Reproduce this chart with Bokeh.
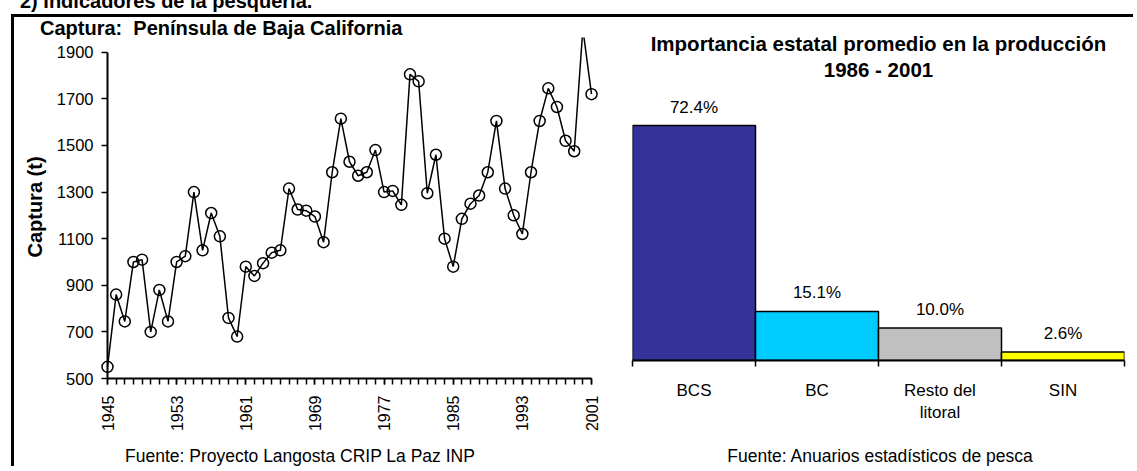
import math
from bokeh.plotting import figure
from bokeh.models import (FixedTicker, Label, LabelSet, Range1d, ColumnDataSource, Div)
from bokeh.core.properties import value
from bokeh.embed import file_html
from bokeh.resources import INLINE

FONT = "Liberation Sans"

# ---- data: left chart ----
years = list(range(1945, 2002))
captura = [550, 860, 745, 1000, 1010, 700, 880, 745, 1000, 1025,
           1300, 1050, 1210, 1110, 760, 680, 980, 940, 995, 1040,
           1050, 1315, 1225, 1220, 1195, 1085, 1385, 1615, 1430, 1370,
           1385, 1480, 1300, 1305, 1245, 1805, 1775, 1295, 1460, 1100,
           980, 1185, 1250, 1285, 1385, 1605, 1315, 1200, 1120, 1385,
           1605, 1745, 1665, 1520, 1475, 2000, 1720]
y_ticks = [500, 700, 900, 1100, 1300, 1500, 1700, 1900]
x_label_years = list(range(1945, 2002, 8))

# ---- data: right chart ----
estados = ["BCS", "BC", "Resto del\nlitoral", "SIN"]
porcentaje = [72.4, 15.1, 10.0, 2.6]
colores = ["#333399", "#00CCFF", "#C0C0C0", "#FFFF00"]


def place(left, top):
    return {"position": "absolute", "left": f"{left}px", "top": f"{top}px"}


Y_END = 1963.1          # frame top of the line chart (the 2000 peak runs off the top)
PX_PER_YEAR = 484 / 56  # frame width / years, used for the overlay's padded range

# ================= left chart: axes =================
p1 = figure(width=609, height=452, x_range=Range1d(years[0], years[-1]), y_range=Range1d(500, Y_END),
            output_backend="svg", toolbar_location=None, title=None,
            min_border_left=96, min_border_right=29, min_border_top=26, min_border_bottom=85,
            styles=place(11, 11))
p1.grid.visible = False
p1.outline_line_color = None
p1.border_fill_color = None

ya = p1.yaxis[0]
ya.ticker = FixedTicker(ticks=y_ticks)
ya.bounds = (y_ticks[0], y_ticks[-1])
ya.minor_tick_line_color = None
ya.major_tick_in = 0
ya.major_tick_out = 6
ya.major_tick_line_width = 1.5
ya.axis_line_width = 2
ya.major_label_text_font = FONT
ya.major_label_text_font_size = "16.5px"
ya.major_label_text_color = "black"
ya.major_label_standoff = 8

xa = p1.xaxis[0]
xa.ticker = FixedTicker(ticks=x_label_years, minor_ticks=years)
xa.major_tick_in = 0
xa.major_tick_out = 6
xa.minor_tick_in = 0
xa.minor_tick_out = 6
xa.minor_tick_line_color = "black"
xa.minor_tick_line_width = 1.5
xa.major_tick_line_width = 1.5
xa.axis_line_width = 2
xa.major_label_orientation = math.pi / 2
xa.major_label_standoff = 11
xa.major_label_text_font = FONT
xa.major_label_text_font_size = "16px"
xa.major_label_text_color = "black"

# ================= left chart: data overlay (wider frame so end markers are whole) =========
pad = 12 / PX_PER_YEAR
p1b = figure(width=508, height=452, x_range=Range1d(years[0] - pad, years[-1] + pad),
             y_range=Range1d(500, Y_END), output_backend="svg", toolbar_location=None,
             title=None, x_axis_location=None, y_axis_location=None,
             min_border_left=0, min_border_right=0, min_border_top=26, min_border_bottom=85,
             styles=place(95, 11))
p1b.grid.visible = False
p1b.outline_line_color = None
p1b.border_fill_color = None
p1b.background_fill_color = None
p1b.line(years, captura, line_color="black", line_width=1.5)
p1b.scatter(years, captura, size=11, fill_color=None, line_color="black", line_width=1.5)

# ================= right chart =================
idx = list(range(len(estados)))
src = ColumnDataSource(dict(x=idx, top=porcentaje, color=colores,
                            label=[f"{v:.1f}%" for v in porcentaje]))

p2 = figure(width=509, height=452, x_range=Range1d(-0.5, len(estados) - 0.5),
            y_range=Range1d(0, 106.3), title=None,
            output_backend="svg", toolbar_location=None, y_axis_location=None,
            min_border_left=12, min_border_right=5, min_border_top=4, min_border_bottom=103,
            styles=place(620, 11))
p2.grid.visible = False
p2.outline_line_color = None
p2.border_fill_color = None
p2.vbar(x="x", top="top", bottom=0, width=1, fill_color="color", line_color="black",
        line_width=1.5, source=src)
p2.add_layout(LabelSet(x="x", y="top", text="label", source=src, y_offset=13,
                       text_align="center", text_baseline="alphabetic",
                       text_font=value(FONT), text_font_size=value("17px"), text_color="black"))

xb = p2.xaxis[0]
xb.ticker = FixedTicker(ticks=idx, minor_ticks=[i - 0.5 for i in range(len(estados) + 1)])
xb.major_label_overrides = {i: s for i, s in zip(idx, estados)}
xb.major_tick_in = 0
xb.major_tick_out = 0
xb.minor_tick_in = 0
xb.minor_tick_out = 6
xb.minor_tick_line_color = "black"
xb.minor_tick_line_width = 1.5
xb.axis_line_width = 2
xb.major_label_standoff = 14
xb.major_label_text_font = FONT
xb.major_label_text_font_size = "17px"
xb.major_label_text_color = "black"

p2.add_layout(Label(x=246, y=317, x_units="screen", y_units="screen",
                    text="Importancia estatal promedio en la producción",
                    text_font=FONT, text_font_size="20.5px", text_font_style="bold",
                    text_align="center", text_baseline="alphabetic", text_color="black"))
p2.add_layout(Label(x=246, y=291, x_units="screen", y_units="screen",
                    text="1986 - 2001",
                    text_font=FONT, text_font_size="20.5px", text_font_style="bold",
                    text_align="center", text_baseline="alphabetic", text_color="black"))

# ================= texts placed on the page =================
bold20 = {"font-family": FONT, "font-size": "20px", "font-weight": "bold",
          "line-height": "24px", "white-space": "pre", "color": "black"}
title1 = Div(text="Captura:  Península de Baja California", width=420, height=24,
             styles={**place(35, 11), **bold20})
ylabel = Div(text="Captura (t)", width=140, height=24,
             styles={**place(-40, 190), **bold20, "text-align": "center",
                     "transform": "rotate(-90deg)", "transform-origin": "center"})
foot_style = {"font-family": FONT, "font-size": "17.5px", "line-height": "20px",
              "white-space": "nowrap", "color": "black"}
foot1 = Div(text="Fuente: Proyecto Langosta CRIP La Paz INP", width=400, height=20,
            styles={**place(120, 441), **foot_style, "text-align": "left"})
foot2 = Div(text="Fuente: Anuarios estadísticos de pesca", width=400, height=20,
            styles={**place(675, 441), **foot_style, "text-align": "center"})
head = Div(text="2) Indicadores de la pesquería.", width=600, height=22,
           styles={**place(15, -15), "font-family": FONT, "font-size": "20px",
                   "font-weight": "bold", "line-height": "22px", "white-space": "nowrap",
                   "color": "black"})
border = Div(text="", width=1122, height=452,
             styles={**place(6, 9), "border-left": "3px solid black",
                     "border-top": "3px solid black", "pointer-events": "none"})

open("out.html", "w").write(file_html([head, p1, p1b, p2, title1, ylabel, foot1, foot2, border],
                                      INLINE))
